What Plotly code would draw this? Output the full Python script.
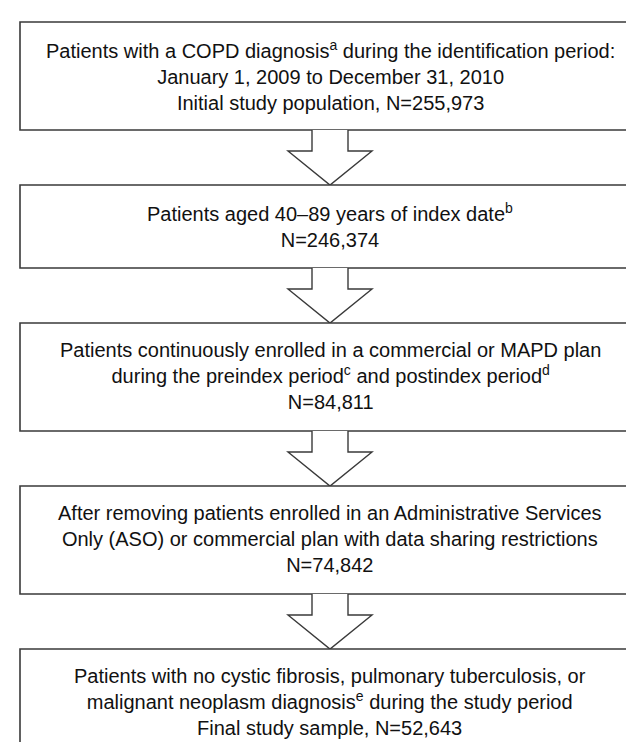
import plotly.graph_objects as go

# ---- data (flowchart content) ----
step_descriptions = [
    "Patients with a COPD diagnosis<sup>a</sup> during the identification period:<br>January 1, 2009 to December 31, 2010",
    "Patients aged 40–89 years of index date<sup>b</sup>",
    "Patients continuously enrolled in a commercial or MAPD plan<br>during the preindex period<sup>c</sup> and postindex period<sup>d</sup>",
    "After removing patients enrolled in an Administrative Services<br>Only (ASO) or commercial plan with data sharing restrictions",
    "Patients with no cystic fibrosis, pulmonary tuberculosis, or<br>malignant neoplasm diagnosis<sup>e</sup> during the study period",
]
count_prefixes = ["Initial study population, N=", "N=", "N=", "N=", "Final study sample, N="]
step_counts = [255973, 246374, 84811, 74842, 52643]

# ---- layout (pixel space) ----
W, H = 634, 742
box_left, box_right = 12, 640
box_tops = [14, 177, 315, 478, 641]
box_bottoms = [122, 260, 423, 586, 749]
cx = 322
shaft_half, head_half, shaft_len = 18, 42, 21
line_col = "#3a3a3a"

fig = go.Figure()
shapes = []
annotations = []
for i, (desc, pre, n) in enumerate(zip(step_descriptions, count_prefixes, step_counts)):
    t, b = box_tops[i], box_bottoms[i]
    shapes.append(dict(type="rect", xref="x", yref="y", x0=box_left, x1=box_right, y0=t, y1=b,
                       line=dict(color=line_col, width=1.6), fillcolor="white", layer="above"))
    txt = f"{desc}<br>{pre}{n:,}"
    yc = (t + b) / 2 - 1
    annotations.append(dict(x=cx, y=yc, xref="x", yref="y", text=txt, showarrow=False,
                            xanchor="center", yanchor="middle", align="center",
                            font=dict(family="Liberation Sans, Arial, sans-serif", size=20, color="#111111")))
    if i < len(step_descriptions) - 1:
        y0 = b
        y1 = b + shaft_len
        y2 = box_tops[i + 1]
        path = (f"M {cx-shaft_half},{y0} L {cx-shaft_half},{y1} L {cx-head_half},{y1} "
                f"L {cx},{y2} L {cx+head_half},{y1} L {cx+shaft_half},{y1} L {cx+shaft_half},{y0}")
        shapes.append(dict(type="path", xref="x", yref="y", path=path,
                           line=dict(color=line_col, width=1.4), fillcolor="white", layer="above"))

fig.update_layout(
    width=W, height=H, margin=dict(l=0, r=0, t=0, b=0),
    paper_bgcolor="white", plot_bgcolor="white",
    xaxis=dict(range=[0, W], visible=False, fixedrange=True),
    yaxis=dict(range=[H, 0], visible=False, fixedrange=True),
    shapes=shapes, annotations=annotations, showlegend=False,
)
fig.write_html("out.html")
